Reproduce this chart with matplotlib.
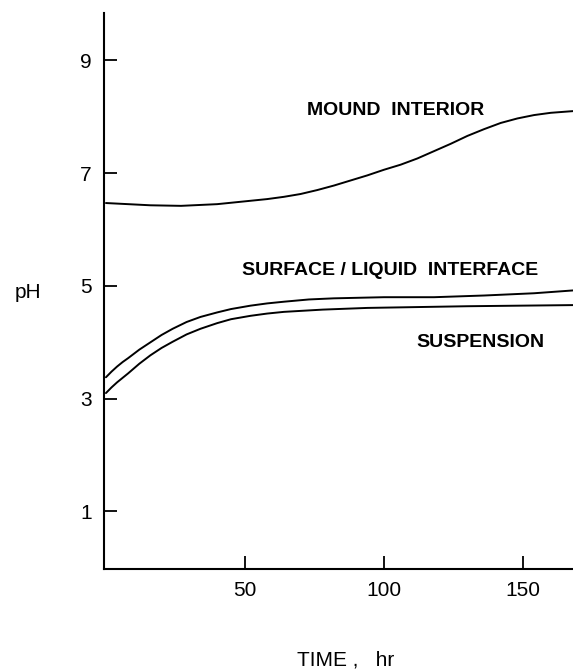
import matplotlib
matplotlib.use("Agg")
import matplotlib.pyplot as plt

plt.rcParams['font.family'] = ['Liberation Sans', 'DejaVu Sans']

# Data
t_mound = [0, 8, 16, 27, 40, 52, 58, 64, 70, 76, 82, 88, 94, 100, 106, 112,
           118, 124, 130, 136, 142, 148, 154, 160, 168]
ph_mound = [6.47, 6.45, 6.43, 6.42, 6.45, 6.51, 6.54, 6.58, 6.63, 6.70, 6.78,
            6.87, 6.96, 7.06, 7.15, 7.26, 7.39, 7.52, 7.66, 7.78, 7.89, 7.97,
            8.03, 8.07, 8.10]

t_surface = [0, 2, 4, 6, 8, 12, 16, 20, 24, 29, 34, 40, 45, 52, 58, 64, 73,
             82, 100, 118, 136, 154, 168]
ph_surface = [3.38, 3.48, 3.57, 3.65, 3.72, 3.87, 4.00, 4.13, 4.24, 4.36,
              4.45, 4.53, 4.59, 4.65, 4.69, 4.72, 4.76, 4.78, 4.80, 4.80,
              4.83, 4.87, 4.92]

t_susp = [0, 2, 4, 6, 8, 12, 16, 20, 24, 29, 34, 40, 45, 52, 58, 64, 78, 94,
          130, 168]
ph_susp = [3.10, 3.20, 3.29, 3.37, 3.45, 3.62, 3.77, 3.90, 4.01, 4.14, 4.24,
           4.34, 4.41, 4.47, 4.51, 4.54, 4.58, 4.61, 4.64, 4.66]

xticks = [50, 100, 150]
yticks = [1, 3, 5, 7, 9]

W, H = 573, 669
fig = plt.figure(figsize=(W / 100, H / 100), dpi=100)
ax = fig.add_axes([104 / W, 1 - 569 / H, (573 - 104) / W, (569 - 13) / H])

for t, p in [(t_mound, ph_mound), (t_surface, ph_surface), (t_susp, ph_susp)]:
    ax.plot(t, p, color='black', lw=1.4, solid_capstyle='round',
            solid_joinstyle='round')

ax.set_xlim(-0.7, 168)
ax.set_ylim(-0.02, 9.84)
ax.set_xticks(xticks)
ax.set_yticks(yticks)
ax.set_xticklabels([str(v) for v in xticks])
ax.set_yticklabels([str(v) for v in yticks])
ax.tick_params(direction='in', length=9.5, width=1.3, labelsize=15, pad=9)
for s in ['top', 'right']:
    ax.spines[s].set_visible(False)
for s in ['left', 'bottom']:
    ax.spines[s].set_linewidth(1.5)

ax.text(104.3, 8.03, 'MOUND  INTERIOR', ha='center', va='baseline',
        fontsize=14, fontweight='bold')
ax.text(102.3, 5.19, 'SURFACE / LIQUID  INTERFACE', ha='center', va='baseline',
        fontsize=14, fontweight='bold')
ax.text(134.7, 3.92, 'SUSPENSION', ha='center', va='baseline',
        fontsize=14, fontweight='bold')

fig.text(27.5 / W, 1 - 298 / H, 'pH', ha='center', va='baseline', fontsize=15)
fig.text(346 / W, 1 - 666 / H, 'TIME ,   hr', ha='center', va='baseline',
         fontsize=15)

fig.savefig('out.png', dpi=100)
